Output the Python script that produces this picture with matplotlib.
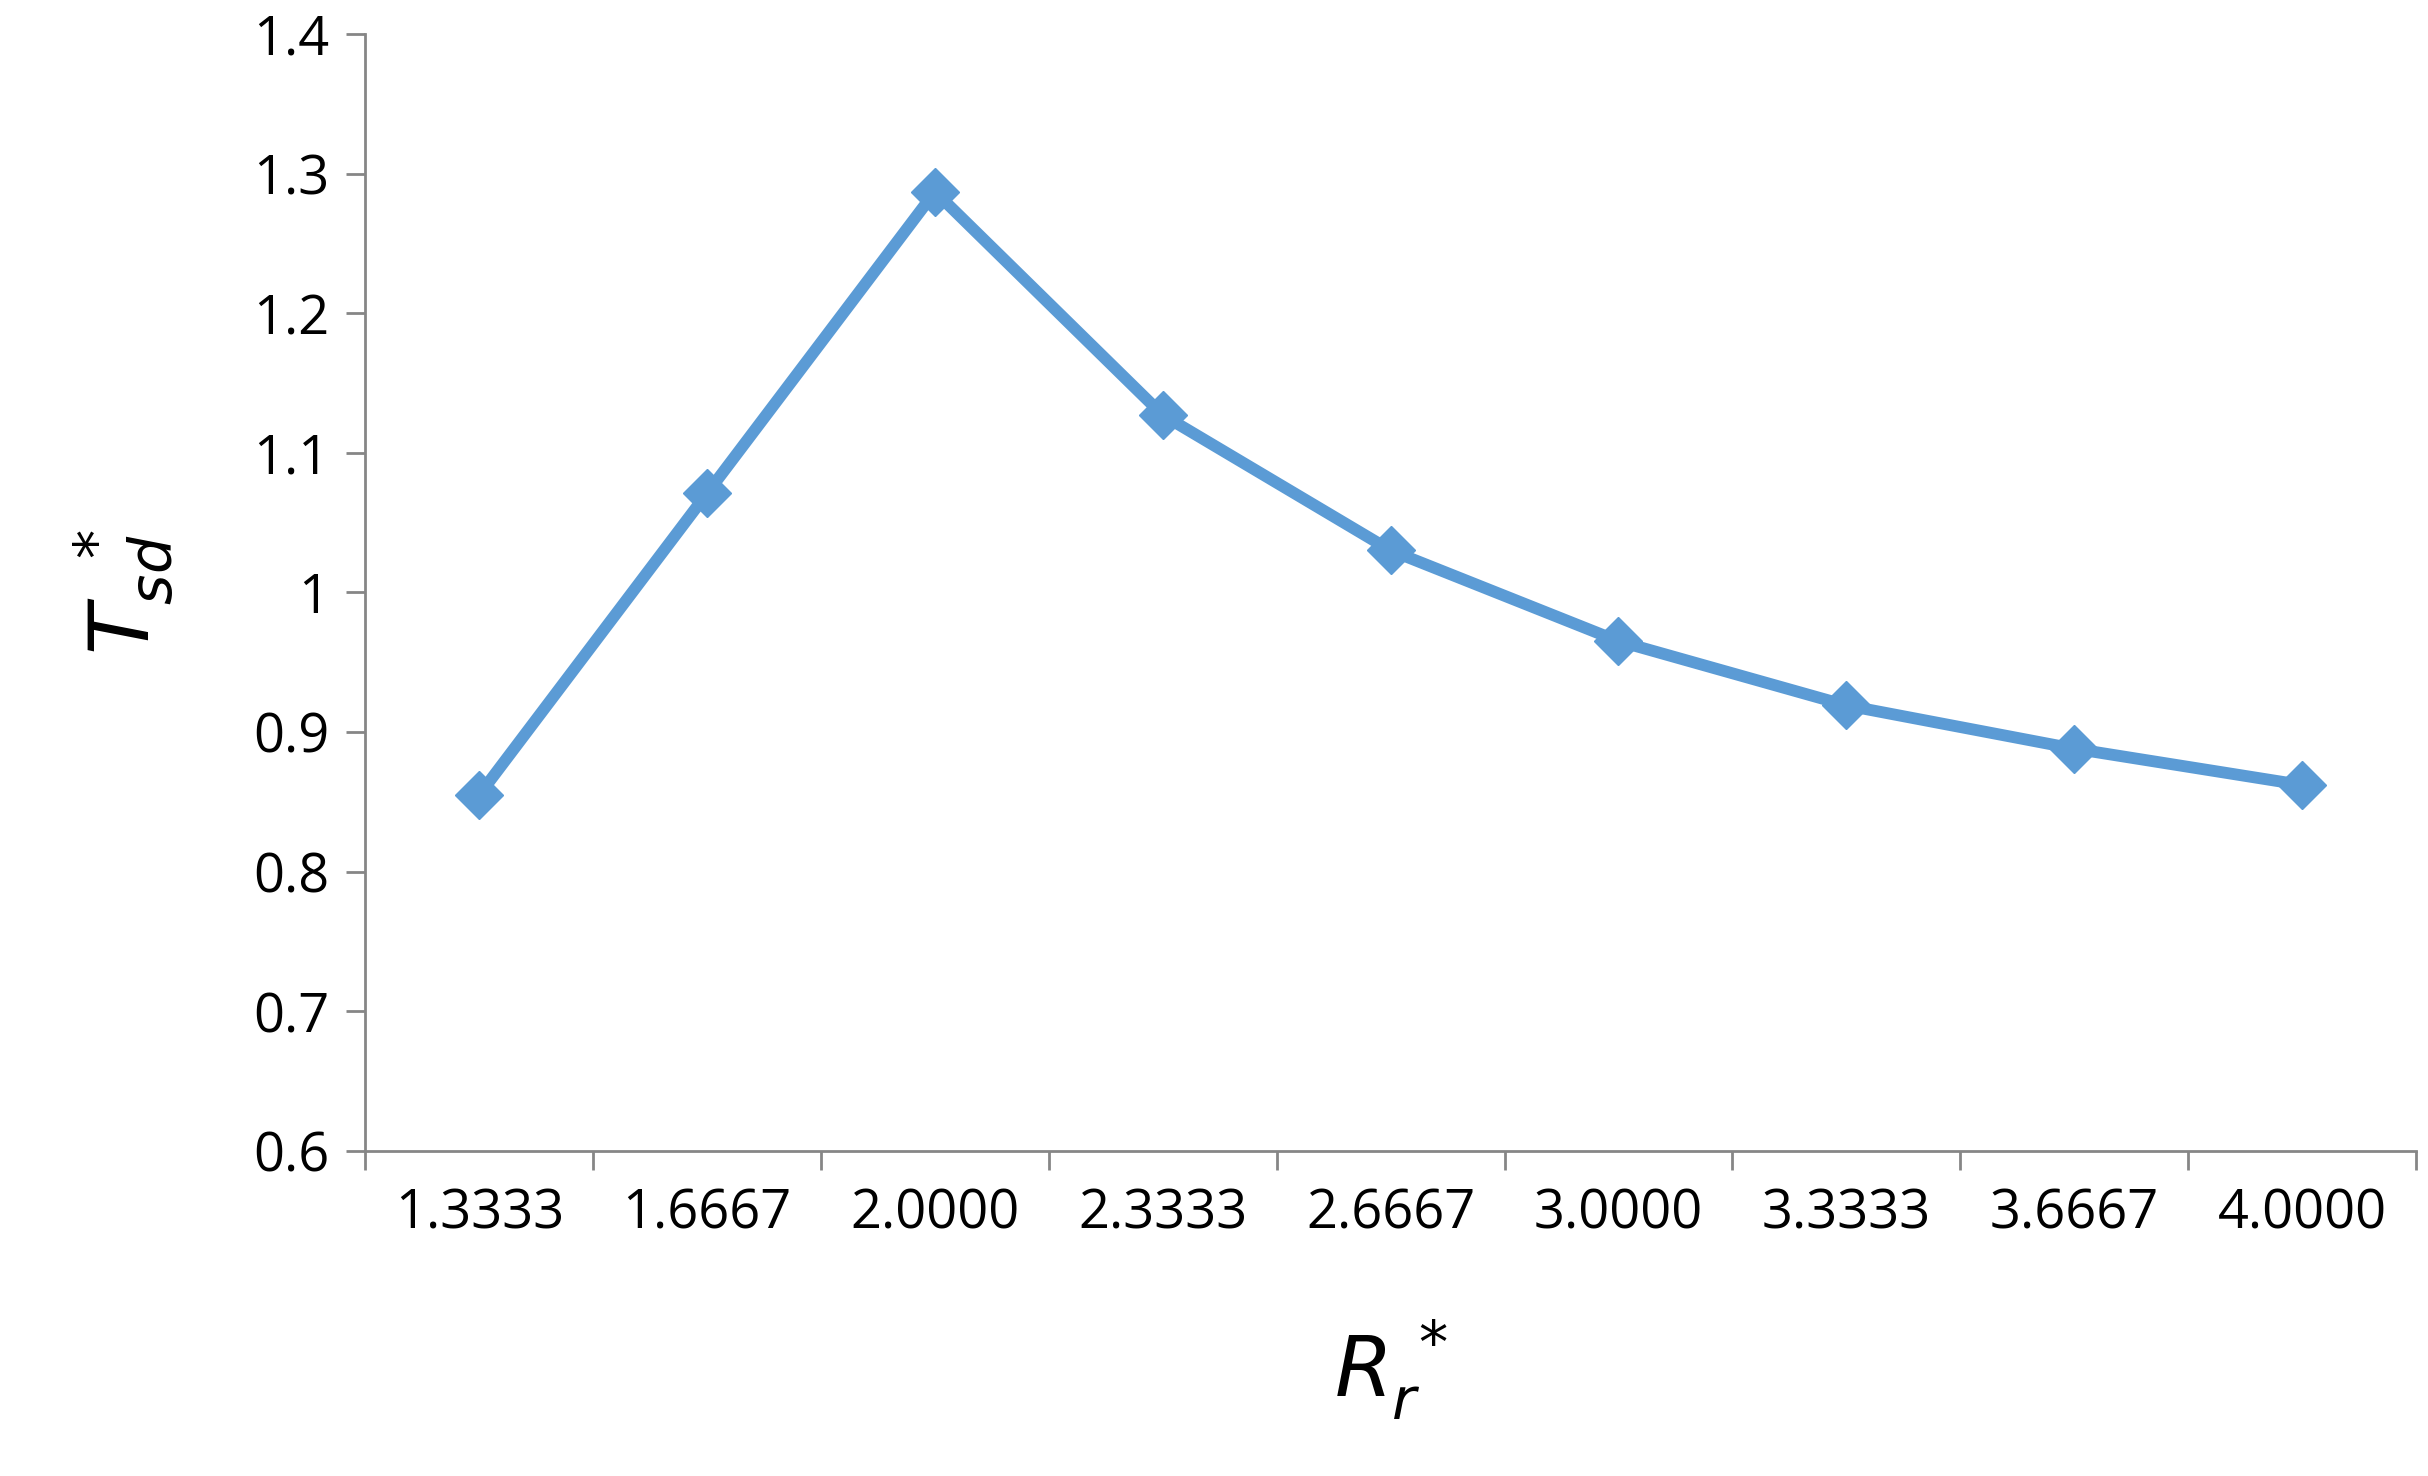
import matplotlib
matplotlib.use("Agg")
import matplotlib.pyplot as plt
import numpy as np

categories = ["1.3333", "1.6667", "2.0000", "2.3333", "2.6667",
              "3.0000", "3.3333", "3.6667", "4.0000"]
tsd_values = [0.855, 1.071, 1.287, 1.127, 1.030, 0.965, 0.919, 0.888, 0.862]

plt.rcParams["font.family"] = ["Open Sans", "DejaVu Sans"]
plt.rcParams["mathtext.fontset"] = "dejavusans"

fig = plt.figure(figsize=(24.28, 14.76), dpi=100)
ax = fig.add_axes([0.1505, 0.2204, 0.8445, 0.7566])

x = np.arange(1, len(categories) + 1)
ax.plot(x, tsd_values, color="#5B9BD5", linewidth=8.5, marker="D",
        markersize=24, markerfacecolor="#5B9BD5", markeredgecolor="#5B9BD5")

ax.set_xlim(0.5, len(categories) + 0.5)
ax.set_ylim(0.6, 1.4)
ax.set_yticks(np.arange(0.6, 1.41, 0.1))
ax.set_yticklabels(["0.6", "0.7", "0.8", "0.9", "1", "1.1", "1.2", "1.3", "1.4"])
ax.set_xticks(np.arange(0.5, len(categories) + 1, 1.0))
ax.set_xticklabels([])
ax.set_xticks(x, minor=True)
ax.set_xticklabels(categories, minor=True)
ax.tick_params(axis="x", which="minor", length=0, pad=26, labelsize=39)
ax.tick_params(axis="x", which="major", length=14, width=2, color="#868686", direction="out")
ax.tick_params(axis="y", length=14, width=2, color="#868686", direction="out", labelsize=39, pad=12)

for side in ["top", "right"]:
    ax.spines[side].set_visible(False)
for side in ["left", "bottom"]:
    ax.spines[side].set_color("#868686")
    ax.spines[side].set_linewidth(2)

ax.set_xlabel(r"$R_r^{\,*}$", fontsize=60, labelpad=55)
ax.set_ylabel(r"$T_{sd}^{\ \,*}$", fontsize=60, labelpad=55)

fig.savefig("out.png", dpi=100)
